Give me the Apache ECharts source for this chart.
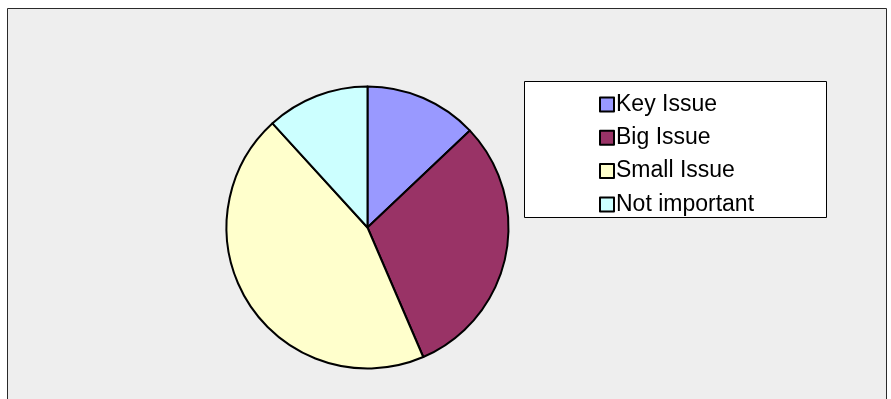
<!DOCTYPE html>
<html>
<head>
<meta charset="utf-8">
<script src="https://cdn.jsdelivr.net/npm/echarts@6/dist/echarts.min.js"></script>
<style>
  html, body { margin: 0; padding: 0; background: #ffffff; }
  #chart { width: 891px; height: 399px; }
</style>
</head>
<body>
<div id="chart"></div>
<script>
// Survey answers: how important is the issue
const categories = ['Key Issue', 'Big Issue', 'Small Issue', 'Not important'];
const counts = [11, 26, 38, 10];
const sliceColors = ['#9999FF', '#993366', '#FFFFCC', '#CCFFFF'];

const chart = echarts.init(document.getElementById('chart'), null, { renderer: 'canvas' });

chart.setOption({
  animation: false,
  backgroundColor: '#ffffff',
  color: sliceColors,
  graphic: [
    {
      type: 'rect',
      z: -10,
      shape: { x: 7.5, y: 8.5, width: 879, height: 400 },
      style: { fill: '#EEEEEE', stroke: '#2a2a2a', lineWidth: 1 }
    },
    {
      type: 'rect',
      z: -5,
      shape: { x: 524.5, y: 81.5, width: 302, height: 136 },
      style: { fill: '#ffffff', stroke: '#000000', lineWidth: 1 }
    }
  ],
  legend: {
    orient: 'vertical',
    left: 594,
    top: 88,
    itemWidth: 14,
    itemHeight: 14,
    itemGap: 10.3,
    icon: 'rect',
    selectedMode: false,
    itemStyle: { borderColor: '#000000', borderWidth: 2 },
    textStyle: {
      fontFamily: '"Liberation Sans", Arial, sans-serif',
      fontSize: 23,
      lineHeight: 23,
      color: '#000000',
      padding: [0, 0, 0, -3]
    },
    data: categories
  },
  series: [
    {
      type: 'pie',
      center: [367.5, 227.5],
      radius: 141,
      startAngle: 90,
      clockwise: true,
      silent: true,
      label: { show: false },
      labelLine: { show: false },
      itemStyle: { borderColor: '#000000', borderWidth: 2 },
      data: categories.map((name, i) => ({ name: name, value: counts[i] }))
    }
  ]
});
</script>
</body>
</html>
